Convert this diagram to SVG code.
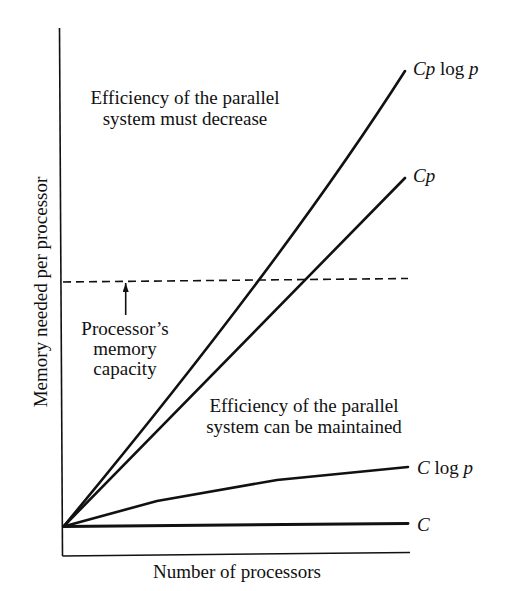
<svg xmlns="http://www.w3.org/2000/svg" width="510" height="591" viewBox="0 0 510 591">
<style>
text{font-family:"Liberation Serif","Times New Roman",serif;font-size:19px;fill:#111}
.it{font-style:italic}
.axis{stroke:#111;stroke-width:1.6;fill:none}
.curve{stroke:#111;stroke-width:2.6;fill:none;stroke-linejoin:round;stroke-linecap:round}
.dash{stroke:#111;stroke-width:1.6;fill:none;stroke-dasharray:8 5}
.mid{text-anchor:middle}
</style>
<defs>
<marker id="ah" viewBox="0 0 9 6" refX="9" refY="3" markerWidth="9" markerHeight="6" markerUnits="userSpaceOnUse" orient="auto">
<path d="M0,0 L9,3 L0,6 Z" fill="#111"/>
</marker>
</defs>
<rect width="510" height="591" fill="#fff"/>
<g id="axes">
<line class="axis" x1="59.5" y1="28" x2="62.5" y2="556"/>
<line class="axis" x1="62.5" y1="556" x2="410" y2="552.5"/>
</g>
<g id="connectors">
<line class="dash" x1="63" y1="282" x2="408" y2="278.5"/>
<line class="axis" x1="125.7" y1="315" x2="125.7" y2="283" marker-end="url(#ah)"/>
<path id="cplogp" class="curve" d="M63.5,526.5 Q283,262 405,71"/>
<path id="cp" class="curve" d="M63.5,526.5 L405,178"/>
<path id="clogp" class="curve" d="M63.5,526.5 L157,501 L277,480 L408,467"/>
<path id="c" class="curve" d="M63.5,526.5 L408,523.5" style="stroke-width:3"/>
</g>
<g id="label-decrease">
<text class="mid" x="185" y="104">Efficiency of the parallel</text>
<text class="mid" x="185" y="125">system must decrease</text>
</g>
<g id="label-maintained">
<text class="mid" x="304" y="412">Efficiency of the parallel</text>
<text class="mid" x="304" y="433">system can be maintained</text>
</g>
<g id="label-capacity">
<text class="mid" x="125" y="335">Processor’s</text>
<text class="mid" x="125" y="355">memory</text>
<text class="mid" x="125" y="375">capacity</text>
</g>
<g id="curve-labels">
<text x="413" y="75"><tspan class="it">Cp</tspan> log <tspan class="it">p</tspan></text>
<text x="413" y="182"><tspan class="it">Cp</tspan></text>
<text x="417" y="474"><tspan class="it">C</tspan> log <tspan class="it">p</tspan></text>
<text x="417" y="531" class="it">C</text>
</g>
<g id="axis-labels">
<text class="mid" transform="translate(46.5,292) rotate(-90)">Memory needed per processor</text>
<text class="mid" x="237" y="578">Number of processors</text>
</g>
</svg>
